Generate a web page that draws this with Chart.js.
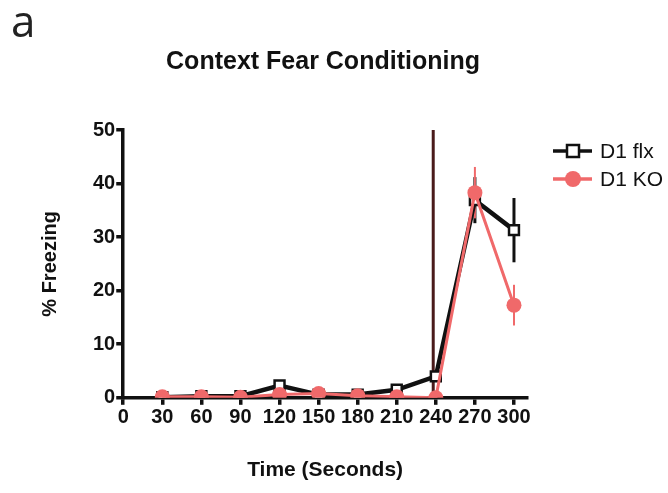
<!DOCTYPE html>
<html>
<head>
<meta charset="utf-8">
<script src="https://cdn.jsdelivr.net/npm/chart.js@4.4.0/dist/chart.umd.min.js"></script>
<style>
  html, body { margin: 0; padding: 0; background: #fff; }
  #wrap { width: 668px; height: 493px; position: relative; }
</style>
</head>
<body>
<div id="wrap"><canvas id="fear-chart"></canvas></div>
<script>
// Time bins (s) and mean % freezing per genotype
const times = [30, 60, 90, 120, 150, 180, 210, 240, 270, 300];
const flxMean = [0.1, 0.3, 0.3, 2.3, 0.6, 0.6, 1.5, 4.0, 36.9, 31.3];
const flxSem  = [0.2, 0.2, 0.2, 0.6, 0.3, 0.3, 0.5, 1.0, 4.3, 6.0];
const koMean  = [0.2, 0.2, 0.1, 0.6, 0.8, 0.4, 0.2, 0.0, 38.3, 17.3];
const koSem   = [0.2, 0.2, 0.1, 0.3, 0.3, 0.2, 0.2, 0.0, 4.8, 3.8];
const xTicks = [0, 30, 60, 90, 120, 150, 180, 210, 240, 270, 300];
const yTicks = [0, 10, 20, 30, 40, 50];
const shockTime = 238;

const BLACK = '#111111';
const RED = '#f0696a';
const MAROON = '#4a1b1b';
const FONT = '"Liberation Sans", Arial, sans-serif';

function toPoints(ys) {
    return times.map((t, i) => ({ x: t, y: ys[i] }));
}

// Vertical marker line + SEM whiskers, drawn under the lines/markers
const overlayPlugin = {
    id: 'overlay',
    beforeDatasetsDraw(chart) {
        const { ctx, scales: { x, y } } = chart;
        ctx.save();
        // marker line
        ctx.strokeStyle = MAROON;
        ctx.lineWidth = 3;
        ctx.beginPath();
        ctx.moveTo(x.getPixelForValue(shockTime), y.getPixelForValue(50));
        ctx.lineTo(x.getPixelForValue(shockTime), y.getPixelForValue(0));
        ctx.stroke();

        // error bars
        [[flxMean, flxSem, BLACK, 3], [koMean, koSem, RED, 2]].forEach(([m, s, col, w]) => {
            ctx.strokeStyle = col;
            ctx.lineWidth = w;
            times.forEach((t, i) => {
                if (!s[i]) return;
                const px = x.getPixelForValue(t);
                ctx.beginPath();
                ctx.moveTo(px, y.getPixelForValue(m[i] - s[i]));
                ctx.lineTo(px, y.getPixelForValue(m[i] + s[i]));
                ctx.stroke();
            });
        });
        ctx.restore();
    },
    afterDraw(chart) {
        const ctx = chart.ctx;
        ctx.save();
        // panel letter
        ctx.fillStyle = '#222';
        ctx.font = '44px "Open Sans", sans-serif';
        ctx.textBaseline = 'alphabetic';
        ctx.fillText('a', 11, 37);

        // title, centred over the plot + legend block
        ctx.fillStyle = '#111';
        ctx.font = 'bold 25px ' + FONT;
        ctx.textAlign = 'center';
        ctx.fillText('Context Fear Conditioning', 323, 69);
        ctx.textAlign = 'left';

        // legend: line segment with marker
        const items = [
            { label: 'D1 flx', color: BLACK, y: 151, square: true },
            { label: 'D1 KO', color: RED, y: 179, square: false }
        ];
        items.forEach(it => {
            ctx.strokeStyle = it.color;
            ctx.lineWidth = 3.5;
            ctx.beginPath();
            ctx.moveTo(553, it.y);
            ctx.lineTo(592, it.y);
            ctx.stroke();
            if (it.square) {
                ctx.fillStyle = '#fff';
                ctx.lineWidth = 2.5;
                ctx.fillRect(567, it.y - 6, 12, 12);
                ctx.strokeRect(567, it.y - 6, 12, 12);
            } else {
                ctx.fillStyle = it.color;
                ctx.beginPath();
                ctx.arc(573, it.y, 8, 0, Math.PI * 2);
                ctx.fill();
            }
            ctx.fillStyle = '#111';
            ctx.font = '21px ' + FONT;
            ctx.textBaseline = 'middle';
            ctx.fillText(it.label, 600, it.y + 1);
        });
        ctx.restore();
    }
};

const ctx = document.getElementById('fear-chart').getContext('2d');
new Chart(ctx, {
    type: 'line',
    data: {
        datasets: [
            {
                label: 'D1 flx',
                data: toPoints(flxMean),
                borderColor: BLACK,
                borderWidth: 4.5,
                pointStyle: 'rect',
                pointRadius: 7,
                pointBorderWidth: 2.5,
                pointBackgroundColor: '#fff',
                pointBorderColor: BLACK,
                order: 1
            },
            {
                label: 'D1 KO',
                data: toPoints(koMean),
                borderColor: RED,
                borderWidth: 3,
                pointStyle: 'circle',
                pointRadius: 7.5,
                pointBorderWidth: 0,
                pointBackgroundColor: RED,
                order: 0
            }
        ]
    },
    options: {
        responsive: true,
        maintainAspectRatio: false,
        animation: false,
        layout: { padding: { left: 38, right: 141, top: 130, bottom: 10 } },
        plugins: {
            legend: { display: false },
            tooltip: { enabled: false },
            title: { display: false }
        },
        scales: {
            x: {
                type: 'linear',
                min: 0,
                max: 310,
                afterBuildTicks: axis => { axis.ticks = xTicks.map(v => ({ value: v })); },
                grid: { display: true, drawOnChartArea: false, drawTicks: true, tickLength: 7, color: BLACK, lineWidth: 3.5 },
                border: { display: true, color: BLACK, width: 3.5 },
                ticks: {
                    color: '#111',
                    padding: 1,
                    maxRotation: 0,
                    autoSkip: false,
                    font: { family: FONT, size: 20, weight: 'bold' }
                },
                title: {
                    display: true,
                    text: 'Time (Seconds)',
                    color: '#111',
                    padding: { top: 27, bottom: 0 },
                    font: { family: FONT, size: 21, weight: 'bold' }
                }
            },
            y: {
                min: 0,
                max: 50,
                afterBuildTicks: axis => { axis.ticks = yTicks.map(v => ({ value: v })); },
                grid: { display: true, drawOnChartArea: false, drawTicks: true, tickLength: 7, color: BLACK, lineWidth: 3.5 },
                border: { display: true, color: BLACK, width: 3.5 },
                ticks: {
                    color: '#111',
                    padding: 1,
                    font: { family: FONT, size: 20, weight: 'bold' }
                },
                title: {
                    display: true,
                    text: '% Freezing',
                    color: '#111',
                    padding: { top: 0, bottom: 30 },
                    font: { family: FONT, size: 20, weight: 'bold' }
                }
            }
        }
    },
    plugins: [overlayPlugin]
});
</script>
</body>
</html>
